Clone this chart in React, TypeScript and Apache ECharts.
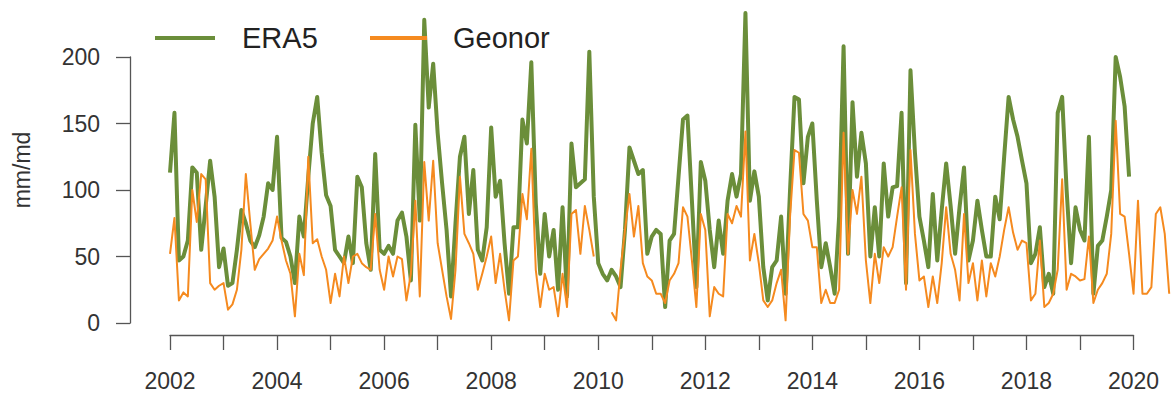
import React, { useEffect, useRef } from "react";
import * as echarts from "echarts";

// Monthly precipitation (mm/month), Jan 2002 onwards
const era5: number[] = [
  // 2002
  113, 158, 47, 50, 62, 117, 113, 55, 88, 122, 95, 42,
  // 2003
  56, 28, 30, 55, 85, 75, 62, 57, 66, 80, 105, 100,
  // 2004
  140, 64, 61, 50, 30, 80, 65, 110, 150, 170, 128, 96,
  // 2005
  88, 55, 50, 45, 65, 45, 110, 102, 60, 40, 127, 55,
  // 2006
  52, 58, 52, 77, 83, 65, 32, 149, 77, 228, 162, 195,
  // 2007
  143, 105, 70, 20, 75, 125, 140, 82, 115, 55, 47, 72,
  // 2008
  147, 95, 107, 60, 22, 72, 72, 153, 135, 196, 90, 37,
  // 2009
  82, 50, 70, 25, 87, 20, 135, 102, 105, 108, 204, 95,
  // 2010
  45, 37, 32, 40, 35, 27, 70, 132, 122, 112, 115, 52,
  // 2011
  65, 70, 67, 12, 62, 67, 110, 153, 156, 92, 27, 121,
  // 2012
  107, 70, 42, 77, 52, 92, 112, 95, 112, 233, 92, 114,
  // 2013
  95, 42, 17, 42, 47, 80, 22, 100, 170, 168, 105, 140,
  // 2014
  150, 92, 42, 60, 42, 22, 80, 208, 52, 166, 110, 143,
  // 2015
  120, 50, 87, 50, 120, 80, 102, 103, 158, 30, 190, 128,
  // 2016
  80, 62, 42, 97, 47, 85, 120, 88, 52, 87, 117, 47,
  // 2017
  62, 92, 70, 50, 50, 95, 78, 125, 170, 153, 140, 122,
  // 2018
  105, 45, 52, 72, 27, 37, 22, 158, 170, 100, 45, 87,
  // 2019
  70, 62, 140, 22, 58, 62, 80, 100, 200, 185, 163, 110,
];

const geonor: (number | null)[] = [
  // 2002
  52, 79, 17, 23, 20, 100, 76, 112, 108, 30, 25, 28,
  // 2003
  30, 10, 14, 25, 55, 112, 75, 40, 48, 52, 56, 62,
  // 2004
  80, 62, 47, 37, 5, 52, 36, 125, 60, 63, 50, 40,
  // 2005
  15, 37, 20, 50, 30, 50, 52, 45, 42, 40, 82, 40,
  // 2006
  25, 50, 35, 50, 48, 17, 37, 92, 20, 121, 77, 122,
  // 2007
  60, 40, 20, 3, 40, 110, 67, 60, 52, 25, 37, 50,
  // 2008
  65, 30, 52, 25, 2, 47, 50, 97, 78, 131, 40, 12,
  // 2009
  37, 25, 27, 5, 37, 12, 82, 85, 52, 88, 70, 50,
  // 2010
  null, null, null, 8, 2, 40, 70, 97, 65, 88, 45, 35,
  // 2011
  32, 22, 22, 15, 32, 37, 45, 87, 80, 47, 12, 82,
  // 2012
  70, 5, 27, 22, 20, 82, 75, 88, 80, 144, 47, 67,
  // 2013
  45, 17, 12, 17, 30, 40, 2, 80, 130, 128, 82, 77,
  // 2014
  57, 57, 15, 25, 15, 15, 25, 143, 52, 100, 82, 110,
  // 2015
  47, 15, 52, 30, 57, 50, 57, 80, 102, 25, 130, 67,
  // 2016
  32, 35, 12, 35, 15, 45, 87, 52, 40, 17, 82, 30,
  // 2017
  45, 17, 47, 20, 45, 35, 50, 70, 87, 68, 55, 62,
  // 2018
  60, 17, 22, 62, 12, 15, 22, 40, 108, 25, 37, 35,
  // 2019
  32, 33, 65, 15, 25, 30, 37, 67, 152, 82, 80, 52,
  // 2020
  22, 92, 22, 22, 27, 82, 87, 67, 22,
];

const startYear = 2002;
const yTicks = [0, 50, 100, 150, 200];
const xTickYears = [2002, 2020];
const seriesNames = ["ERA5", "Geonor"];
const yLabel = "mm/md";

const GREEN = "#6b8e3a";
const ORANGE = "#f58a1f";
const FONT = "'Liberation Sans', Arial, Helvetica, sans-serif";

const toPairs = (arr: (number | null)[]) =>
  arr.map((v, i) => [startYear + i / 12, v === null ? "-" : v]);

export default function App() {
  const ref = useRef<HTMLDivElement>(null);

  useEffect(() => {
    if (!ref.current) return;
    const chart = echarts.init(ref.current, undefined, { renderer: "svg" });
    const axisColor = "#555";
    const textColor = "#333";
    chart.setOption({
      animation: false,
      backgroundColor: "#ffffff",
      grid: [
        // data region
        { left: 170, right: 0, top: 3.8, bottom: 57.7 },
        // y axis (R-style, only spans 0..200)
        { left: 130, width: 10, top: 57, height: 266 },
        // x axis (R-style, only spans 2002..2020)
        { left: 170, width: 963.5, top: 325, height: 10 },
      ],
      xAxis: [
        { gridIndex: 0, type: "value", min: 2002, max: 2020.7, show: false },
        { gridIndex: 1, type: "value", min: 0, max: 1, show: false },
        {
          gridIndex: 2,
          type: "value",
          min: xTickYears[0],
          max: xTickYears[1],
          interval: 1,
          position: "bottom",
          axisLine: { show: true, lineStyle: { color: axisColor, width: 1.3 } },
          axisTick: { show: true, length: 15, lineStyle: { color: axisColor, width: 1.3 } },
          splitLine: { show: false },
          axisLabel: {
            margin: 34,
            fontSize: 23,
            color: textColor,
            fontFamily: FONT,
            formatter: (v: number) => (v % 2 === 0 ? String(v) : ""),
          },
        },
      ],
      yAxis: [
        { gridIndex: 0, type: "value", min: -10, max: 240, show: false },
        {
          gridIndex: 1,
          type: "value",
          min: yTicks[0],
          max: yTicks[yTicks.length - 1],
          interval: 50,
          position: "left",
          axisLine: { show: true, lineStyle: { color: axisColor, width: 1.3 } },
          axisTick: { show: true, length: 14, lineStyle: { color: axisColor, width: 1.3 } },
          splitLine: { show: false },
          axisLabel: { margin: 30, fontSize: 23, color: textColor, fontFamily: FONT },
        },
        { gridIndex: 2, type: "value", min: 0, max: 1, show: false },
      ],
      graphic: [
        {
          type: "text",
          x: 22,
          y: 170,
          rotation: Math.PI / 2,
          style: {
            text: yLabel,
            fontSize: 23,
            fontFamily: FONT,
            fill: textColor,
            align: "center",
            verticalAlign: "middle",
          },
        },
        {
          type: "line",
          shape: { x1: 155, y1: 38, x2: 215, y2: 38 },
          style: { stroke: GREEN, lineWidth: 4 },
          z: 10,
        },
        {
          type: "text",
          x: 242,
          y: 38,
          style: {
            text: seriesNames[0],
            fontSize: 29,
            fontFamily: FONT,
            fill: "#222",
            align: "left",
            verticalAlign: "middle",
          },
          z: 10,
        },
        {
          type: "line",
          shape: { x1: 370, y1: 38, x2: 427, y2: 38 },
          style: { stroke: ORANGE, lineWidth: 4 },
          z: 10,
        },
        {
          type: "text",
          x: 453,
          y: 38,
          style: {
            text: seriesNames[1],
            fontSize: 29,
            fontFamily: FONT,
            fill: "#222",
            align: "left",
            verticalAlign: "middle",
          },
          z: 10,
        },
      ],
      series: [
        {
          name: seriesNames[0],
          type: "line",
          xAxisIndex: 0,
          yAxisIndex: 0,
          data: toPairs(era5),
          symbol: "none",
          lineStyle: { color: GREEN, width: 4, join: "round" },
          itemStyle: { color: GREEN },
          z: 2,
        },
        {
          name: seriesNames[1],
          type: "line",
          xAxisIndex: 0,
          yAxisIndex: 0,
          data: toPairs(geonor),
          symbol: "none",
          connectNulls: false,
          lineStyle: { color: ORANGE, width: 2, join: "round" },
          itemStyle: { color: ORANGE },
          z: 3,
        },
      ],
    });
    return () => chart.dispose();
  }, []);

  return (
    <div
      ref={ref}
      style={{ position: "fixed", left: 0, top: 0, width: 1171, height: 394, background: "#fff" }}
    />
  );
}
